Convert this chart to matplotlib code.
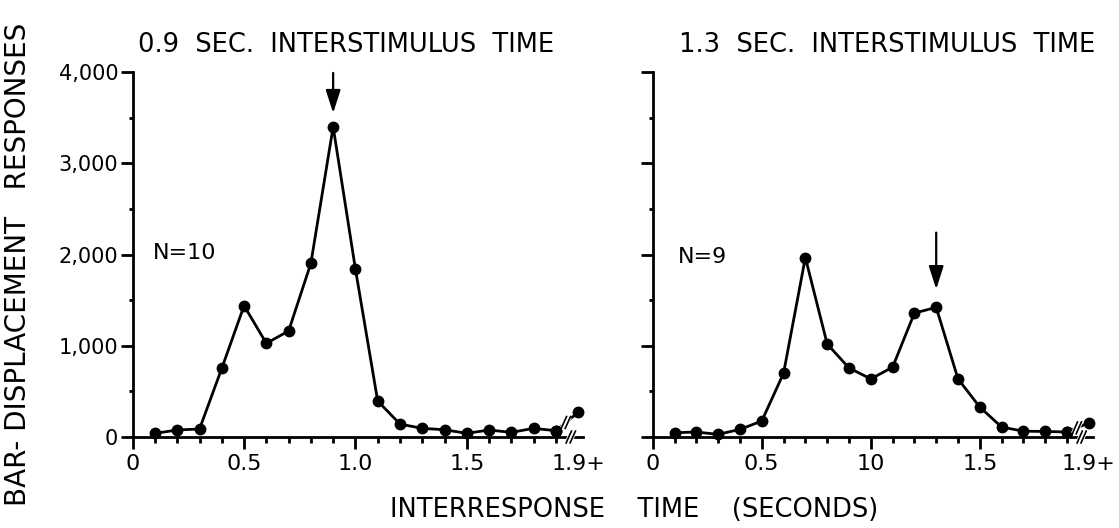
import numpy as np
import matplotlib
matplotlib.use('Agg')
import matplotlib.pyplot as plt
from matplotlib.ticker import FixedLocator

plt.rcParams['font.family'] = ['DejaVu Sans']

# interresponse time bins (seconds) and response counts
IRT = [0.1, 0.2, 0.3, 0.4, 0.5, 0.6, 0.7, 0.8, 0.9, 1.0,
       1.1, 1.2, 1.3, 1.4, 1.5, 1.6, 1.7, 1.8, 1.9]
RESP_09 = [40, 77, 88, 753, 1439, 1027, 1162, 1904, 3400, 1841,
           395, 142, 95, 80, 40, 77, 51, 95, 69]
RESP_13 = [47, 55, 29, 84, 175, 699, 1967, 1020, 757, 637,
           765, 1358, 1421, 637, 328, 109, 64, 61, 55]
OVER_X = 2.0            # plotted position of the "1.9+" bin
OVER_09 = 270
OVER_13 = 156

TITLES = ['0.9  SEC.  INTERSTIMULUS  TIME', '1.3  SEC.  INTERSTIMULUS  TIME']
N_LABELS = ['N=10', 'N=9']
ARROW_X = [0.9, 1.3]
ARROW_TIP = [3550, 1620]
ARROW_TAIL = [3990, 2240]
YTICKS = [0, 1000, 2000, 3000, 4000]
YTICK_LABELS = ['0', '1,000', '2,000', '3,000', '4,000']
XTICKS = [0, 0.5, 1.0, 1.5, OVER_X]
XTICK_LABELS_L = ['0', '0.5', '1.0', '1.5', '1.9+']
XTICK_LABELS_R = ['0', '0.5', '10', '1.5', '1.9+']

BREAK_X = 1.955
LW = 2.0


def draw_break(ax, x, y, dx=0.012, dy=65):
    # white gap then two slanted strokes
    ax.plot([x - dx, x + dx], [y - dy, y + dy], color='white', lw=5,
            clip_on=False, zorder=5, solid_capstyle='butt')
    for off in (-0.009, 0.009):
        ax.plot([x + off - dx, x + off + dx], [y - dy, y + dy], color='black',
                lw=1.2, clip_on=False, zorder=6)


def setup_axes(ax, xlabels, show_ylabels):
    ax.set_xlim(0, 2.05)
    ax.set_ylim(0, 4000)
    for s in ('top', 'right'):
        ax.spines[s].set_visible(False)
    ax.spines['left'].set_linewidth(LW)
    ax.spines['bottom'].set_linewidth(LW)
    ax.spines['bottom'].set_bounds(0, BREAK_X)
    ax.plot([BREAK_X, 2.02], [0, 0], color='black', lw=LW, clip_on=False)

    ax.xaxis.set_major_locator(FixedLocator(XTICKS))
    ax.set_xticklabels(xlabels)
    minor_x = [v for v in IRT if round(v * 10) % 5 != 0]
    ax.xaxis.set_minor_locator(FixedLocator(minor_x))
    ax.xaxis.get_major_ticks()[-1].tick1line.set_visible(False)

    ax.yaxis.set_major_locator(FixedLocator(YTICKS))
    ax.yaxis.set_minor_locator(FixedLocator([500, 1500, 2500, 3500]))
    if show_ylabels:
        ax.set_yticklabels(YTICK_LABELS)
    else:
        ax.set_yticklabels([])

    ax.tick_params(which='major', direction='out', length=8.5, width=LW,
                   labelsize=16, pad=4)
    ax.tick_params(axis='x', which='minor', direction='out', length=4.5, width=LW)
    ax.tick_params(axis='y', which='minor', direction='out', length=3, width=LW)
    ax.tick_params(axis='y', which='major', pad=2, labelsize=15)


fig = plt.figure(figsize=(11.19, 5.28), dpi=100)
ax1 = fig.add_axes([0.1186, 0.1723, 0.408, 0.6913])
ax2 = fig.add_axes([0.5833, 0.1723, 0.3995, 0.6913])

panels = [(ax1, RESP_09, OVER_09, XTICK_LABELS_L, True),
          (ax2, RESP_13, OVER_13, XTICK_LABELS_R, False)]

for i, (ax, resp, over, xl, show_y) in enumerate(panels):
    setup_axes(ax, xl, show_y)
    ax.plot(IRT, resp, color='black', lw=LW, marker='o', markersize=7.5,
            clip_on=False, zorder=3)
    ax.plot([IRT[-1], OVER_X], [resp[-1], over], color='black', lw=LW,
            marker='o', markersize=7.5, clip_on=False, zorder=3)
    frac = (BREAK_X - 0.01 - IRT[-1]) / (OVER_X - IRT[-1])
    draw_break(ax, BREAK_X - 0.01, resp[-1] + frac * (over - resp[-1]))
    draw_break(ax, BREAK_X + 0.012, 0)

    # arrow pointing at the interstimulus time
    ax.annotate('', xy=(ARROW_X[i], ARROW_TIP[i]), xytext=(ARROW_X[i], ARROW_TAIL[i]),
                arrowprops=dict(arrowstyle='-|>,head_length=1.4,head_width=0.45',
                                color='black', lw=1.6, shrinkA=0, shrinkB=0),
                annotation_clip=False)

fig.text(0.309, 0.915, TITLES[0], ha='center', va='center', fontsize=18.5)
fig.text(0.793, 0.915, TITLES[1], ha='center', va='center', fontsize=18.5)
ax1.text(0.09, 2016, N_LABELS[0], ha='left', va='center', fontsize=16)
ax2.text(0.116, 1978, N_LABELS[1], ha='left', va='center', fontsize=16)

fig.text(0.016, 0.5, 'BAR- DISPLACEMENT   RESPONSES', rotation=90,
         ha='center', va='center', fontsize=20)
fig.text(0.567, 0.035, 'INTERRESPONSE    TIME    (SECONDS)', ha='center',
         va='center', fontsize=18.5)

fig.savefig('out.png', dpi=100)
